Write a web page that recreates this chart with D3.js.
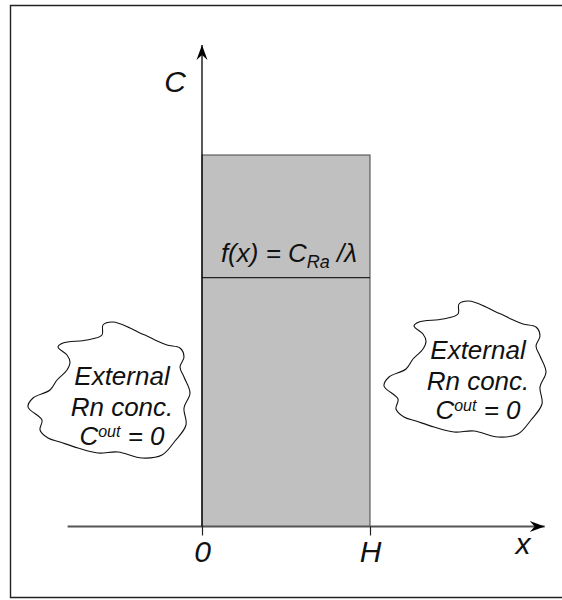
<!DOCTYPE html>
<html>
<head>
<meta charset="utf-8">
<script src="https://cdn.jsdelivr.net/npm/d3@7"></script>
<style>
  html, body { margin: 0; padding: 0; background: #fff; }
  svg { display: block; }
  text { font-family: "Liberation Sans", Arial, sans-serif; font-style: italic; fill: #111; }
</style>
</head>
<body>
<svg id="chart" width="562" height="600"></svg>
<script>
// Domain of the sketch: position across the layer (0 .. H) and concentration C
const xTickValues = [0, 1];
const xTickLabels = ["0", "H"];
const xAxisExtent = [-0.80, 2.04];     // x axis runs from left margin to arrow tip
const yAxisTop = 1.296;                // C axis arrow tip
const boxTop = 1.0;                    // top of the shaded region
const sourceLevel = 0.67;              // f(x) = C_Ra / λ level inside the layer

// Cloud outline (offsets from the cloud centre, px) and its text lines
const cloudOutline = [
  [4,-68],[21,-62],[31,-57],[38,-54],[46,-50],[58,-45],[71,-42],[75,-33],[71,-23],
  [75,-13],[81,3],[75,18],[77,35],[66,51],[53,65],[33,68],[9,62],[-11,63],
  [-31,58],[-49,52],[-61,48],[-69,40],[-67,30],[-81,17],[-76,8],[-59,0],
  [-52,-10],[-42,-20],[-39,-28],[-42,-35],[-51,-43],[-46,-47],[-22,-50],
  [-7,-55],[-6,-65]
];
const clouds = [
  { cx: 109, cy: 390, tx: 122, lines: [385, 416, 445] },
  { cx: 465, cy: 369, tx: 478, lines: [359, 390, 419] }
];

const svg = d3.select("#chart");

const x = d3.scaleLinear().domain([0, 1]).range([202, 370]);
const y = d3.scaleLinear().domain([0, 1]).range([526.5, 155]);

// Outer frame (open at the right edge)
svg.append("path")
  .attr("d", "M600,5.5 H10.5 V597.5 H600")
  .attr("fill", "none").attr("stroke", "#222").attr("stroke-width", 1.4);

// Arrow head marker
const defs = svg.append("defs");
defs.append("marker")
  .attr("id", "arrow").attr("viewBox", "-16 -6 18 12")
  .attr("refX", 0).attr("refY", 0)
  .attr("markerWidth", 18).attr("markerHeight", 12)
  .attr("markerUnits", "userSpaceOnUse")
  .attr("orient", "auto")
  .append("path").attr("d", "M0,0 L-15,-5.5 L-10,0 L-15,5.5 Z").attr("fill", "#000");

// Shaded layer 0..H
svg.append("rect")
  .attr("x", x(0)).attr("y", y(boxTop))
  .attr("width", x(1) - x(0)).attr("height", y(0) - y(boxTop))
  .attr("fill", "#c0c0c0").attr("stroke", "#444").attr("stroke-width", 1);

// Source level line
svg.append("line")
  .attr("x1", x(0)).attr("x2", x(1))
  .attr("y1", y(sourceLevel)).attr("y2", y(sourceLevel))
  .attr("stroke", "#222").attr("stroke-width", 1.2);

// x axis
svg.append("line")
  .attr("x1", x(xAxisExtent[0])).attr("x2", x(xAxisExtent[1]))
  .attr("y1", y(0)).attr("y2", y(0))
  .attr("stroke", "#555").attr("stroke-width", 2.2)
  .attr("marker-end", "url(#arrow)");

// Ticks and tick labels at 0 and H
const xAxis = d3.axisBottom(x)
  .tickValues(xTickValues)
  .tickFormat((d, i) => xTickLabels[i])
  .tickSize(9).tickPadding(0);
const gx = svg.append("g").attr("transform", `translate(0,${y(0)})`).call(xAxis);
gx.select(".domain").remove();
gx.selectAll(".tick line").attr("stroke", "#222").attr("stroke-width", 1.2);
gx.selectAll(".tick text")
  .attr("y", 35.5).attr("dy", 0)
  .attr("font-family", "Liberation Sans, Arial, sans-serif")
  .style("font-size", "30px").style("font-style", "italic").attr("fill", "#111");

// C axis
svg.append("line")
  .attr("x1", x(0)).attr("x2", x(0))
  .attr("y1", y(0)).attr("y2", y(yAxisTop))
  .attr("stroke", "#000").attr("stroke-width", 1.3)
  .attr("marker-end", "url(#arrow)");

// Axis titles
svg.append("text").attr("x", 175).attr("y", 92)
  .attr("text-anchor", "middle").style("font-size", "30px").text("C");
svg.append("text").attr("x", 523).attr("y", 554)
  .attr("text-anchor", "middle").style("font-size", "30px").text("x");

// Source term label
const fl = svg.append("text").attr("x", x(0.5) + 3).attr("y", y(sourceLevel) - 16)
  .attr("text-anchor", "middle").style("font-size", "26px");
fl.append("tspan").text("f(x) = C");
fl.append("tspan").attr("dy", 6).style("font-size", "18px").text("Ra");
fl.append("tspan").attr("dy", -6).text(" /\u03bb");

// External concentration clouds
const line = d3.line().curve(d3.curveCatmullRomClosed.alpha(0.5));
clouds.forEach(c => {
  const g = svg.append("g");
  g.append("path")
    .attr("d", line(cloudOutline.map(([dx, dy]) => [c.cx + dx, c.cy + dy])))
    .attr("fill", "#fff").attr("stroke", "#111").attr("stroke-width", 1.1);
  g.append("text").attr("x", c.tx).attr("y", c.lines[0])
    .attr("text-anchor", "middle").style("font-size", "26px").text("External");
  g.append("text").attr("x", c.tx).attr("y", c.lines[1])
    .attr("text-anchor", "middle").style("font-size", "26px").text("Rn conc.");
  const t = g.append("text").attr("x", c.tx).attr("y", c.lines[2])
    .attr("text-anchor", "middle").style("font-size", "26px");
  t.append("tspan").text("C");
  t.append("tspan").attr("dy", -8).style("font-size", "16px").text("out");
  t.append("tspan").attr("dy", 8).text(" = 0");
});
</script>
</body>
</html>
